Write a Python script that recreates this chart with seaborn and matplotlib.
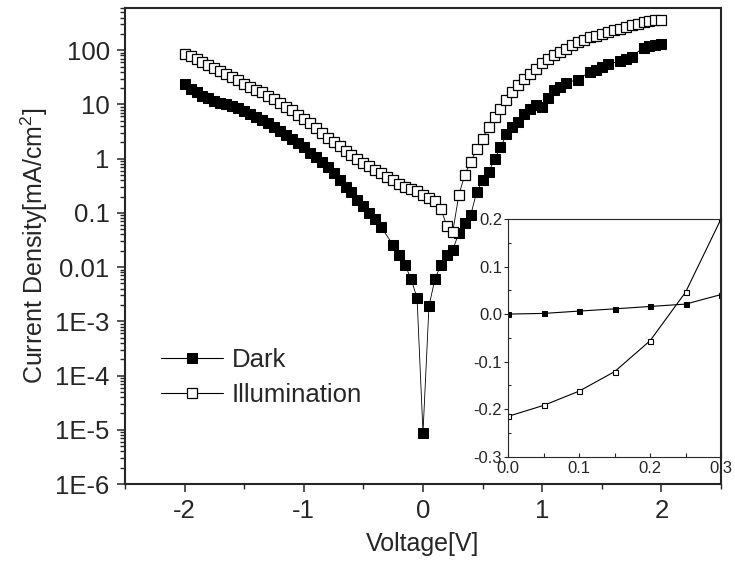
import numpy as np
import matplotlib
matplotlib.use("Agg")
import matplotlib.pyplot as plt
from matplotlib.ticker import FixedLocator, LogLocator, NullFormatter, MultipleLocator, FormatStrFormatter
import seaborn as sns

# dark J-V sweep (|J|, mA/cm2); a few points are missing in the original record
dark_v = [-2.00, -1.95, -1.90, -1.85, -1.80, -1.75, -1.70, -1.65, -1.60, -1.55,
          -1.50, -1.45, -1.40, -1.35, -1.30, -1.25, -1.20, -1.15, -1.10, -1.05,
          -1.00, -0.95, -0.90, -0.85, -0.80, -0.75, -0.70, -0.65, -0.60, -0.55,
          -0.50, -0.45, -0.40, -0.35, -0.25, -0.20, -0.15, -0.10, -0.05, 0.00,
          0.05, 0.10, 0.15, 0.20, 0.25, 0.30, 0.35, 0.40, 0.45, 0.50,
          0.55, 0.60, 0.65, 0.70, 0.75, 0.80, 0.85, 0.90, 0.95, 1.00,
          1.05, 1.10, 1.15, 1.20, 1.30, 1.40, 1.45, 1.50, 1.55, 1.65,
          1.70, 1.75, 1.85, 1.90, 1.95, 2.00]
dark_j = [24.0, 19.5, 16.6, 14.6, 13.0, 11.7, 10.8, 10.0, 9.2, 8.5,
          7.7, 6.8, 5.9, 5.1, 4.47, 3.8, 3.24, 2.69, 2.29, 1.95,
          1.66, 1.29, 1.05, 0.87, 0.71, 0.54, 0.40, 0.30, 0.245, 0.172,
          0.133, 0.100, 0.076, 0.054, 0.0255, 0.0166, 0.0109, 0.0060, 0.0027, 8.8e-6,
          0.0019, 0.0060, 0.0109, 0.0166, 0.021, 0.042, 0.064, 0.091, 0.24, 0.40,
          0.56, 0.98, 1.61, 2.79, 3.76, 4.79, 6.6, 8.4, 9.7, 9.0,
          13.4, 18.2, 20.9, 25.1, 28.8, 39.8, 43.7, 49.0, 55.0, 63.1,
          67.6, 75.9, 112, 117, 126, 132]

# illuminated J-V sweep (|J|, mA/cm2)
illum_v = [-2.00, -1.95, -1.90, -1.85, -1.80, -1.75, -1.70, -1.65, -1.60, -1.55,
           -1.50, -1.45, -1.40, -1.35, -1.30, -1.25, -1.20, -1.15, -1.10, -1.05,
           -1.00, -0.95, -0.90, -0.85, -0.80, -0.75, -0.70, -0.65, -0.60, -0.55,
           -0.50, -0.45, -0.40, -0.35, -0.30, -0.25, -0.20, -0.15, -0.10, -0.05,
           0.00, 0.05, 0.10, 0.15, 0.20, 0.25, 0.30, 0.35, 0.40, 0.45,
           0.50, 0.55, 0.60, 0.65, 0.70, 0.75, 0.80, 0.85, 0.90, 0.95,
           1.00, 1.05, 1.10, 1.15, 1.20, 1.25, 1.30, 1.35, 1.40, 1.45,
           1.50, 1.55, 1.60, 1.65, 1.70, 1.75, 1.80, 1.85, 1.90, 1.95, 2.00]
illum_j = [86.9, 77.4, 68.2, 61.0, 53.6, 46.6, 41.6, 36.6, 31.8, 28.4,
           24.3, 21.1, 18.8, 16.6, 14.2, 12.5, 10.7, 9.0, 7.8, 6.3,
           5.4, 4.5, 3.6, 2.95, 2.4, 2.0, 1.68, 1.39, 1.15, 0.97,
           0.84, 0.74, 0.63, 0.55, 0.46, 0.40, 0.34, 0.30, 0.27, 0.25,
           0.213, 0.192, 0.163, 0.120, 0.057, 0.045, 0.21, 0.50, 0.87, 1.48,
           2.35, 3.85, 5.75, 8.4, 12.3, 17.0, 22.6, 30.0, 37.0, 45.7,
           57.0, 67.6, 81.0, 93.0, 107, 123, 141, 155, 176, 186,
           200, 219, 234, 251, 269, 288, 309, 331, 347, 355, 368]

# inset: linear J near 0 V
inset_v = [0.00, 0.05, 0.10, 0.15, 0.20, 0.25, 0.30]
inset_dark = [0.0, 0.0014, 0.0063, 0.011, 0.016, 0.021, 0.041]
inset_illum = [-0.215, -0.192, -0.162, -0.121, -0.056, 0.046, 0.200]

ytick_vals = [1e-6, 1e-5, 1e-4, 1e-3, 1e-2, 1e-1, 1, 10, 100]
ytick_labels = ["1E-6", "1E-5", "1E-4", "1E-3", "0.01", "0.1", "1", "10", "100"]

sns.set_style("ticks")
plt.rcParams['font.family'] = ['Liberation Sans', 'DejaVu Sans']
plt.rcParams['mathtext.default'] = 'regular'
plt.rcParams['axes.unicode_minus'] = False

fig = plt.figure(figsize=(7.35, 5.71), dpi=100)
ax = fig.add_axes([125/735, 1-484/571, 596/735, 476/571])

sns.lineplot(x=dark_v, y=dark_j, ax=ax, color='k', linewidth=0.6, marker='s',
             markersize=7.2, markerfacecolor='k', markeredgecolor='k', label='Dark')
sns.lineplot(x=illum_v, y=illum_j, ax=ax, color='k', linewidth=0.6, marker='s',
             markersize=7.2, markerfacecolor='white', markeredgecolor='k',
             markeredgewidth=0.9, label='Illumination')

ax.set_yscale('log')
ax.set_xlim(-2.5, 2.5)
ax.set_ylim(1e-6, 600)
ax.xaxis.set_major_locator(MultipleLocator(1))
ax.xaxis.set_minor_locator(MultipleLocator(0.5))
ax.yaxis.set_major_locator(FixedLocator(ytick_vals))
ax.set_yticklabels(ytick_labels)
ax.yaxis.set_minor_locator(LogLocator(base=10, subs=np.arange(2, 10), numticks=100))
ax.yaxis.set_minor_formatter(NullFormatter())
ax.tick_params(which='major', direction='out', length=6, width=1.1, labelsize=18.5, pad=5)
ax.tick_params(which='minor', direction='out', length=3.5, width=1.0)
for s in ax.spines.values():
    s.set_linewidth(1.5)
ax.set_xlabel("Voltage[V]", fontsize=18, labelpad=6)
ax.set_ylabel("Current Density[mA/cm$^2$]", fontsize=18, labelpad=4)

leg = ax.legend(loc='center left', bbox_to_anchor=(161/735, 1-377.5/571),
                bbox_transform=fig.transFigure, frameon=False, fontsize=18.5,
                handlelength=2.4, handletextpad=0.35, borderpad=0, borderaxespad=0,
                labelspacing=0.42)
for h in leg.legend_handles:
    h.set_linewidth(0.8)

# inset
ins = fig.add_axes([508.3/735, 1-456.7/571, 212.7/735, 237.7/571])
ins.set_facecolor('white')
sns.lineplot(x=inset_v, y=inset_dark, ax=ins, color='k', linewidth=0.8, marker='s',
             markersize=3.6, markerfacecolor='k', markeredgecolor='k')
sns.lineplot(x=inset_v, y=inset_illum, ax=ins, color='k', linewidth=0.8, marker='s',
             markersize=3.6, markerfacecolor='white', markeredgecolor='k',
             markeredgewidth=0.8)
ins.set_xlim(0, 0.3)
ins.set_ylim(-0.3, 0.2)
ins.xaxis.set_major_locator(MultipleLocator(0.1))
ins.xaxis.set_minor_locator(MultipleLocator(0.05))
ins.yaxis.set_major_locator(MultipleLocator(0.1))
ins.yaxis.set_minor_locator(MultipleLocator(0.05))
ins.xaxis.set_major_formatter(FormatStrFormatter('%.1f'))
ins.yaxis.set_major_formatter(FormatStrFormatter('%.1f'))
ins.tick_params(axis='x', which='both', direction='in', length=3, width=0.8, labelsize=12, pad=3)
ins.tick_params(axis='y', which='major', direction='out', length=3, width=0.8, labelsize=12, pad=1.5)
ins.tick_params(axis='y', which='minor', direction='in', length=2, width=0.8)
for s in ins.spines.values():
    s.set_linewidth(0.8)
ins.spines['right'].set_linewidth(1.5)

fig.savefig("out.png", dpi=100)
